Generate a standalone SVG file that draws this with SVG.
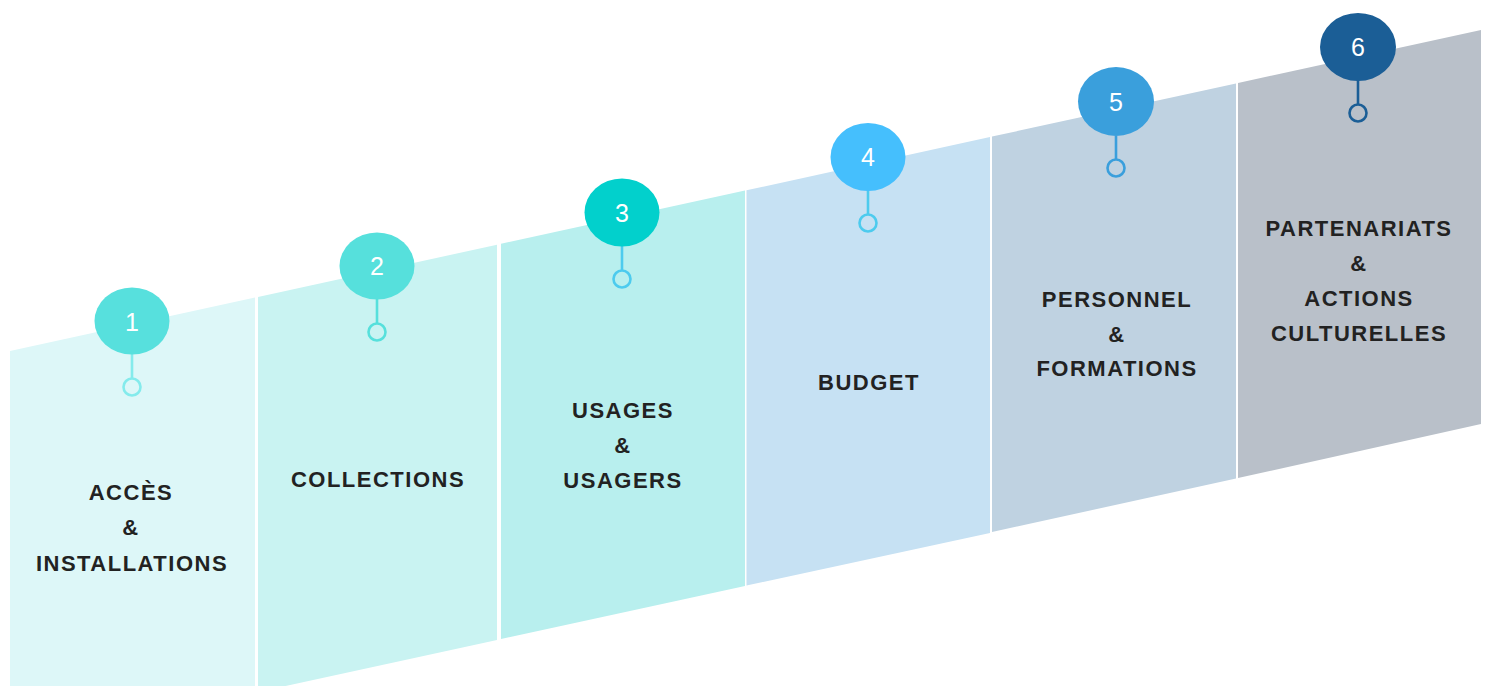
<svg xmlns="http://www.w3.org/2000/svg" width="1489" height="686" viewBox="0 0 1489 686">
<style>
.lbl{font-family:"Liberation Sans",Arial,sans-serif;font-weight:bold;font-size:22px;letter-spacing:1.5px;fill:#222222;text-anchor:middle}
.num{font-family:"Liberation Sans",Arial,sans-serif;font-size:25px;fill:#ffffff;text-anchor:middle}
.stem{stroke-width:2.6;fill:none}
</style>
<rect width="1489" height="686" fill="#ffffff"/>
<g id="panels">
<polygon id="panel1" points="10,351 255,297.5 255,692.5 10,746" fill="#DDF7F8"/>
<polygon id="panel2" points="258,297 497,244.7 497,640 258,692" fill="#C9F3F2"/>
<polygon id="panel3" points="501,243.8 745,190.5 745,586 501,639" fill="#B8EFEE"/>
<polygon id="panel4" points="746.5,190.3 990,137 990,533 746.5,585.5" fill="#C6E1F3"/>
<polygon id="panel5" points="992,136.6 1236,83.4 1236,478.5 992,532" fill="#BFD2E1"/>
<polygon id="panel6" points="1238,83 1481,30 1481,424 1238,478" fill="#B9C0C9"/>
</g>
<g id="connectors">
<path class="stem" d="M132,354 V378" stroke="#84EBEC"/>
<path class="stem" d="M377,299 V323" stroke="#56E0DC"/>
<path class="stem" d="M622,246 V270" stroke="#4DCBEE"/>
<path class="stem" d="M868,190 V214" stroke="#4DCBEE"/>
<path class="stem" d="M1116,136 V159" stroke="#3A9FDC"/>
<path class="stem" d="M1358,80 V104" stroke="#1B5E96"/>
</g>
<g id="node1">
<circle cx="132" cy="387" r="8.5" fill="none" stroke="#84EBEC" stroke-width="2.6"/>
<ellipse cx="132" cy="321" rx="37.5" ry="33.5" fill="#57E0DD"/>
<text class="num" x="132" y="331">1</text>
<text class="lbl" x="131" y="500">ACCÈS</text>
<text class="lbl" x="131" y="535">&amp;</text>
<text class="lbl" x="132" y="571">INSTALLATIONS</text>
</g>
<g id="node2">
<circle cx="377" cy="332" r="8.5" fill="none" stroke="#56E0DC" stroke-width="2.6"/>
<ellipse cx="377" cy="266" rx="37.5" ry="33.5" fill="#56E0DC"/>
<text class="num" x="377" y="275">2</text>
<text class="lbl" x="378" y="487">COLLECTIONS</text>
</g>
<g id="node3">
<circle cx="622" cy="279" r="8.5" fill="none" stroke="#4DCBEE" stroke-width="2.6"/>
<ellipse cx="622" cy="212.5" rx="37.5" ry="34" fill="#02D0CC"/>
<text class="num" x="622" y="222">3</text>
<text class="lbl" x="623" y="418">USAGES</text>
<text class="lbl" x="623" y="453">&amp;</text>
<text class="lbl" x="623" y="488">USAGERS</text>
</g>
<g id="node4">
<circle cx="868" cy="223" r="8.5" fill="none" stroke="#4DCBEE" stroke-width="2.6"/>
<ellipse cx="868" cy="157" rx="37.5" ry="34" fill="#45BFFD"/>
<text class="num" x="868" y="166">4</text>
<text class="lbl" x="869" y="390">BUDGET</text>
</g>
<g id="node5">
<circle cx="1116" cy="168" r="8.5" fill="none" stroke="#3A9FDC" stroke-width="2.6"/>
<ellipse cx="1116" cy="101.5" rx="38" ry="34.5" fill="#3A9FDC"/>
<text class="num" x="1116" y="111">5</text>
<text class="lbl" x="1117" y="307">PERSONNEL</text>
<text class="lbl" x="1117" y="342">&amp;</text>
<text class="lbl" x="1117" y="376">FORMATIONS</text>
</g>
<g id="node6">
<circle cx="1358" cy="113" r="8.5" fill="none" stroke="#1B5E96" stroke-width="2.6"/>
<ellipse cx="1358" cy="47" rx="38" ry="34" fill="#1B5E96"/>
<text class="num" x="1358" y="56">6</text>
<text class="lbl" x="1359" y="236">PARTENARIATS</text>
<text class="lbl" x="1359" y="271">&amp;</text>
<text class="lbl" x="1359" y="306">ACTIONS</text>
<text class="lbl" x="1359" y="341">CULTURELLES</text>
</g>
</svg>
